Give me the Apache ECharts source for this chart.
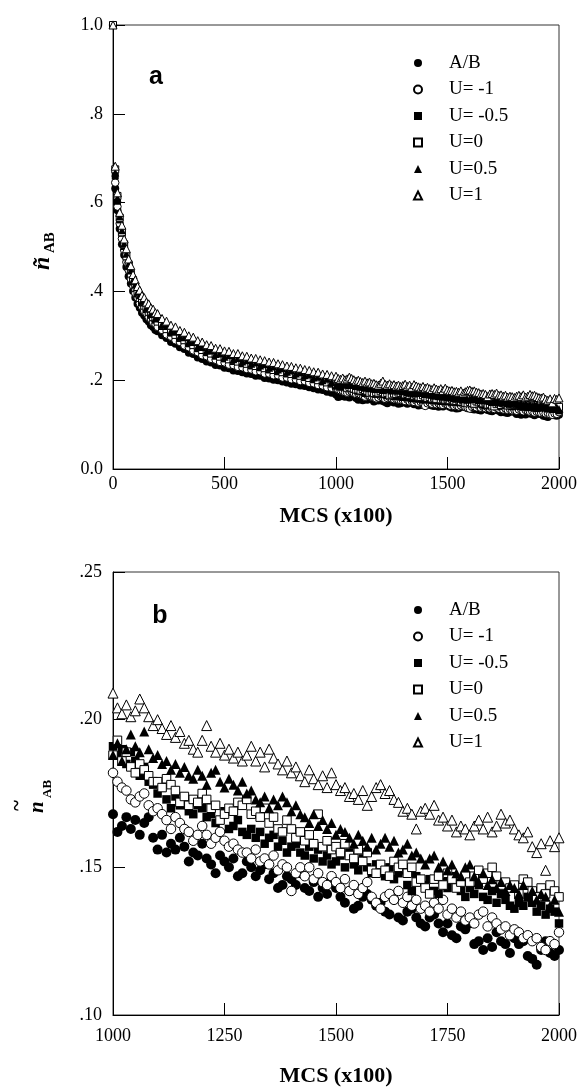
<!DOCTYPE html>
<html><head><meta charset="utf-8">
<script src="https://cdn.jsdelivr.net/npm/echarts@6.0.0/dist/echarts.min.js"></script>
<style>html,body{margin:0;padding:0;background:#fff}#c{width:581px;height:1088px}</style>
</head><body><div id="c"></div>
<script>
const seriesNames = ['A/B', 'U= -1', 'U= -0.5', 'U=0', 'U=0.5', 'U=1'];

const earlyMCS = [0,10,20,30,40,50,60,70,80,90,100,
  110,120,130,140,150,160,170,180,190,200,
  220,240,260,280,300,320,340,360,380,400,
  420,440,460,480,500,520,540,560,580,600,
  620,640,660,680,700,720,740,760,780,800,
  820,840,860,880,900,920,940,960,980];

const lateMCS = [1000,1010,1020,1030,1040,1050,1060,1070,1080,1090,
  1100,1110,1120,1130,1140,1150,1160,1170,1180,1190,
  1200,1210,1220,1230,1240,1250,1260,1270,1280,1290,
  1300,1310,1320,1330,1340,1350,1360,1370,1380,1390,
  1400,1410,1420,1430,1440,1450,1460,1470,1480,1490,
  1500,1510,1520,1530,1540,1550,1560,1570,1580,1590,
  1600,1610,1620,1630,1640,1650,1660,1670,1680,1690,
  1700,1710,1720,1730,1740,1750,1760,1770,1780,1790,
  1800,1810,1820,1830,1840,1850,1860,1870,1880,1890,
  1900,1910,1920,1930,1940,1950,1960,1970,1980,1990,2000];

// early part (0-980), panel a only
const earlyAB = [1.0,.632,.583,.541,.506,.482,.455,.434,.418,.401,.386,
  .372,.363,.352,.346,.337,.332,.324,.320,.313,.310,
  .301,.295,.286,.282,.274,.270,.262,.259,.251,.248,
  .242,.240,.234,.233,.228,.227,.222,.221,.218,.215,
  .214,.210,.210,.205,.204,.201,.200,.197,.195,.192,
  .191,.188,.187,.184,.182,.179,.178,.174,.172];
const earlyUm1 = [1.0,.645,.591,.553,.519,.493,.466,.448,.428,.413,.396,
  .386,.373,.366,.356,.351,.342,.338,.330,.327,.320,
  .313,.303,.298,.290,.286,.278,.274,.267,.263,.256,
  .254,.248,.246,.241,.240,.235,.234,.230,.229,.225,
  .224,.220,.220,.215,.215,.211,.211,.206,.206,.202,
  .202,.198,.198,.194,.193,.189,.188,.184,.183];
const earlyUm05 = [1.0,.660,.603,.561,.531,.501,.478,.456,.440,.421,.408,
  .394,.385,.374,.368,.359,.354,.346,.342,.335,.332,
  .321,.315,.306,.302,.294,.290,.282,.279,.271,.268,
  .262,.260,.254,.253,.248,.247,.242,.242,.237,.237,
  .232,.232,.228,.227,.223,.223,.219,.218,.214,.214,
  .210,.210,.206,.205,.201,.200,.196,.195,.191];
const earlyU0 = [1.0,.675,.615,.566,.533,.506,.479,.461,.440,.425,.408,
  .398,.385,.378,.368,.363,.354,.350,.342,.339,.332,
  .325,.315,.310,.302,.298,.290,.286,.279,.275,.268,
  .266,.260,.258,.253,.252,.247,.246,.242,.241,.237,
  .236,.232,.232,.227,.227,.223,.223,.218,.218,.214,
  .214,.210,.210,.205,.205,.200,.200,.195,.194];
const earlyU05 = [1.0,.668,.611,.569,.538,.508,.485,.462,.447,.426,.415,
  .399,.392,.379,.375,.364,.361,.351,.349,.340,.339,
  .326,.322,.311,.309,.299,.297,.287,.286,.276,.275,
  .267,.267,.259,.260,.253,.256,.247,.250,.242,.245,
  .237,.240,.233,.236,.228,.231,.224,.227,.219,.222,
  .215,.218,.211,.213,.206,.208,.200,.203,.196];
const earlyU1 = [1.0,.682,.622,.578,.549,.518,.496,.473,.458,.438,.426,
  .411,.403,.391,.386,.376,.372,.363,.360,.352,.350,
  .339,.333,.324,.320,.312,.308,.300,.297,.289,.286,
  .280,.278,.272,.271,.266,.265,.260,.260,.255,.254,
  .250,.249,.246,.244,.241,.240,.237,.235,.232,.231,
  .228,.227,.224,.222,.219,.218,.214,.213,.210];

// late part (1000-2000), both panels
const lateAB = [.168,.162,.164,.167,.163,.166,.161,.165,.167,.160,
  .156,.161,.155,.158,.156,.160,.157,.152,.155,.154,
  .158,.153,.151,.148,.154,.152,.150,.153,.147,.148,
  .152,.150,.147,.149,.151,.146,.148,.143,.144,.147,
  .146,.144,.148,.143,.142,.145,.140,.143,.141,.146,
  .143,.140,.138,.142,.136,.137,.140,.141,.139,.137,
  .138,.135,.134,.139,.133,.132,.135,.136,.133,.131,
  .130,.133,.134,.131,.128,.131,.127,.126,.130,.129,
  .131,.124,.125,.122,.126,.123,.128,.125,.124,.121,
  .126,.124,.125,.120,.119,.117,.122,.125,.121,.120,.122];
const lateUm1 = [.182,.179,.177,.176,.173,.172,.174,.175,.171,.169,
  .170,.168,.166,.163,.167,.165,.163,.162,.159,.161,
  .164,.161,.158,.160,.162,.159,.157,.158,.156,.155,
  .155,.153,.156,.152,.153,.151,.154,.149,.151,.150,
  .142,.148,.150,.147,.150,.146,.148,.145,.144,.147,
  .145,.143,.146,.142,.144,.141,.143,.145,.140,.138,
  .136,.140,.141,.139,.142,.138,.140,.137,.139,.136,
  .137,.135,.138,.136,.139,.134,.136,.133,.135,.132,
  .133,.131,.134,.135,.130,.133,.131,.129,.130,.127,
  .129,.128,.126,.127,.125,.126,.123,.122,.125,.124,.128];
const lateUm05 = [.191,.188,.190,.185,.189,.186,.181,.184,.179,.178,
  .175,.177,.173,.170,.174,.171,.173,.169,.168,.171,
  .170,.167,.168,.165,.166,.169,.163,.164,.166,.162,
  .161,.163,.160,.162,.158,.160,.161,.157,.159,.155,
  .157,.158,.155,.154,.157,.153,.156,.152,.154,.151,
  .152,.154,.150,.155,.151,.149,.153,.150,.148,.151,
  .149,.147,.150,.146,.148,.149,.144,.142,.147,.145,
  .144,.146,.142,.141,.145,.143,.147,.146,.142,.140,
  .143,.141,.144,.140,.139,.142,.138,.141,.139,.137,
  .136,.138,.137,.140,.138,.135,.137,.134,.136,.135,.131];
const lateU0 = [.188,.193,.186,.189,.184,.182,.185,.183,.181,.179,
  .179,.177,.180,.178,.176,.172,.174,.171,.173,.172,
  .175,.173,.170,.171,.166,.168,.170,.169,.172,.171,
  .173,.168,.169,.167,.170,.165,.167,.163,.162,.166,
  .163,.160,.162,.159,.161,.158,.168,.157,.159,.156,
  .157,.155,.158,.154,.153,.156,.152,.155,.149,.148,
  .151,.149,.147,.152,.150,.151,.148,.150,.145,.146,
  .143,.141,.146,.147,.144,.148,.146,.143,.145,.147,
  .145,.147,.149,.146,.148,.150,.147,.144,.145,.143,
  .144,.141,.146,.145,.142,.140,.143,.141,.144,.142,.140];
const lateU05 = [.188,.192,.186,.190,.195,.191,.189,.196,.190,.187,
  .188,.185,.186,.183,.185,.182,.184,.181,.180,.183,
  .181,.178,.182,.183,.179,.177,.180,.178,.176,.179,
  .175,.176,.173,.172,.174,.170,.173,.171,.174,.172,
  .169,.171,.168,.167,.165,.168,.164,.166,.163,.165,
  .161,.163,.162,.160,.158,.161,.159,.157,.160,.156,
  .158,.160,.157,.159,.155,.156,.158,.154,.155,.153,
  .151,.153,.154,.150,.152,.149,.151,.148,.147,.150,
  .151,.147,.145,.148,.144,.146,.143,.145,.142,.144,
  .143,.141,.144,.140,.142,.139,.141,.140,.137,.139,.135];
const lateU1 = [.209,.204,.202,.205,.201,.203,.207,.204,.201,.198,
  .200,.197,.195,.198,.194,.196,.192,.193,.190,.189,
  .193,.198,.191,.189,.192,.188,.190,.187,.189,.186,
  .188,.191,.186,.189,.184,.190,.187,.185,.183,.186,
  .182,.184,.181,.179,.183,.180,.178,.181,.177,.182,
  .178,.176,.177,.174,.175,.173,.176,.171,.174,.177,
  .178,.175,.176,.173,.172,.169,.170,.168,.163,.169,
  .170,.168,.171,.166,.167,.164,.166,.162,.164,.163,
  .161,.164,.166,.163,.167,.162,.164,.168,.165,.166,
  .163,.161,.160,.162,.157,.155,.158,.149,.159,.157,.160];

const xTicksA = [0, 500, 1000, 1500, 2000];
const yTicksA = [0, 0.2, 0.4, 0.6, 0.8, 1.0];
const yTickLabelsA = ['0.0', '.2', '.4', '.6', '.8', '1.0'];
const xTicksB = [1000, 1250, 1500, 1750, 2000];
const yTicksB = [0.10, 0.15, 0.20, 0.25];
const yTickLabelsB = ['.10', '.15', '.20', '.25'];

const earlySets = [earlyAB, earlyUm1, earlyUm05, earlyU0, earlyU05, earlyU1];
const lateSets = [lateAB, lateUm1, lateUm05, lateU0, lateU05, lateU1];

const markerStyles = [
  { symbol: 'circle', fill: '#000' },
  { symbol: 'circle', fill: '#fff' },
  { symbol: 'rect', fill: '#000' },
  { symbol: 'rect', fill: '#fff' },
  { symbol: 'triangle', fill: '#000' },
  { symbol: 'triangle', fill: '#fff' }
];
const sizeA = [8, 7.5, 7, 7, 8, 8];
const sizeB = [10, 9.5, 8.5, 8.5, 10, 10];

const serif = 'Liberation Serif, Times New Roman, serif';
const chart = echarts.init(document.getElementById('c'), null, { renderer: 'canvas' });

function labelFrom(ticks, labels) {
  return function (v) {
    const i = ticks.findIndex(t => Math.abs(t - v) < 1e-9);
    return i >= 0 ? labels[i] : '';
  };
}

const series = [];
seriesNames.forEach((name, k) => {
  const m = markerStyles[k];
  const dataA = earlyMCS.map((x, i) => [x, earlySets[k][i]])
    .concat(lateMCS.map((x, i) => [x, lateSets[k][i]]));
  const dataB = lateMCS.map((x, i) => [x, lateSets[k][i]]);
  const style = { color: m.fill, borderColor: '#000', borderWidth: m.fill === '#fff' ? 1 : 0, opacity: 1 };
  series.push({
    name, type: 'scatter', xAxisIndex: 0, yAxisIndex: 0, data: dataA,
    symbol: m.symbol, symbolSize: sizeA[k], itemStyle: style, clip: false,
    emphasis: { disabled: true }, animation: false
  });
  series.push({
    name, type: 'scatter', xAxisIndex: 1, yAxisIndex: 1, data: dataB,
    symbol: m.symbol, symbolSize: sizeB[k], itemStyle: style, clip: false,
    emphasis: { disabled: true }, animation: false
  });
});

const axisCommon = {
  axisLine: { show: true, lineStyle: { color: '#000', width: 1 } },
  axisTick: { show: true, inside: true, length: 12, lineStyle: { color: '#000', width: 1 } },
  splitLine: { show: false }
};

const legendCommon = {
  orient: 'vertical', left: 408, itemWidth: 8, itemHeight: 8, itemGap: 6.5,
  selectedMode: false, data: seriesNames,
  textStyle: { fontFamily: serif, fontSize: 19, color: '#000', lineHeight: 20, padding: [0, 0, 0, 22] }
};

function yTitle(x, y, nSize, subSize, subDx, subDy, separateTilde) {
  const children = [];
  if (separateTilde) {
    children.push({ type: 'text', x: 0, y: 0, style: { text: 'n', fontFamily: serif, fontSize: nSize, fontStyle: 'italic', fontWeight: 'bold', fill: '#000', align: 'left', verticalAlign: 'bottom' } });
    children.push({ type: 'text', x: 2, y: -30, style: { text: '~', fontFamily: serif, fontSize: nSize, fontWeight: 'bold', fill: '#000', align: 'left', verticalAlign: 'middle' } });
  } else {
    children.push({ type: 'text', x: 0, y: 0, style: { text: 'ñ', fontFamily: serif, fontSize: nSize, fontStyle: 'italic', fontWeight: 'bold', fill: '#000', align: 'left', verticalAlign: 'bottom' } });
  }
  children.push({ type: 'text', x: subDx, y: subDy, style: { text: 'AB', fontFamily: serif, fontSize: subSize, fontWeight: 'bold', fill: '#000', align: 'left', verticalAlign: 'bottom' } });
  return { type: 'group', x, y, rotation: Math.PI / 2, children };
}

chart.setOption({
  animation: false,
  backgroundColor: '#fff',
  grid: [
    { left: 113, top: 25, width: 446, height: 444, show: true, borderColor: '#333', borderWidth: 1, backgroundColor: 'transparent' },
    { left: 113, top: 572, width: 446, height: 444, show: true, borderColor: '#333', borderWidth: 1, backgroundColor: 'transparent' }
  ],
  xAxis: [
    Object.assign({}, axisCommon, {
      type: 'value', gridIndex: 0, min: 0, max: 2000, interval: 500,
      axisLabel: { fontFamily: serif, fontSize: 18, color: '#000', margin: 6, formatter: labelFrom(xTicksA, xTicksA.map(String)) },
      name: 'MCS (x100)', nameLocation: 'middle', nameGap: 36,
      nameTextStyle: { fontFamily: serif, fontSize: 22, fontWeight: 'bold', color: '#000' }
    }),
    Object.assign({}, axisCommon, {
      type: 'value', gridIndex: 1, min: 1000, max: 2000, interval: 250,
      axisLabel: { fontFamily: serif, fontSize: 18, color: '#000', margin: 12, formatter: labelFrom(xTicksB, xTicksB.map(String)) },
      name: 'MCS (x100)', nameLocation: 'middle', nameGap: 50,
      nameTextStyle: { fontFamily: serif, fontSize: 22, fontWeight: 'bold', color: '#000' }
    })
  ],
  yAxis: [
    Object.assign({}, axisCommon, {
      type: 'value', gridIndex: 0, min: 0, max: 1.0, interval: 0.2,
      axisLabel: { fontFamily: serif, fontSize: 18, color: '#000', margin: 10, formatter: labelFrom(yTicksA, yTickLabelsA) }
    }),
    Object.assign({}, axisCommon, {
      type: 'value', gridIndex: 1, min: 0.10, max: 0.25, interval: 0.05,
      axisLabel: { fontFamily: serif, fontSize: 18, color: '#000', margin: 11, formatter: labelFrom(yTicksB, yTickLabelsB) }
    })
  ],
  legend: [
    Object.assign({}, legendCommon, { top: 48 }),
    Object.assign({}, legendCommon, { top: 595 })
  ],
  graphic: [
    { type: 'text', x: 156, y: 77, style: { text: 'a', fontFamily: 'Liberation Sans, Arial, sans-serif', fontSize: 25, fontWeight: 'bold', fill: '#000', align: 'center', verticalAlign: 'middle' } },
    { type: 'text', x: 160, y: 616, style: { text: 'b', fontFamily: 'Liberation Sans, Arial, sans-serif', fontSize: 25, fontWeight: 'bold', fill: '#000', align: 'center', verticalAlign: 'middle' } },
    yTitle(55, 270, 24, 15, 17, 3, false),
    yTitle(48, 813, 21, 13, 15, 6, true)
  ],
  series
});
</script>
</body></html>
